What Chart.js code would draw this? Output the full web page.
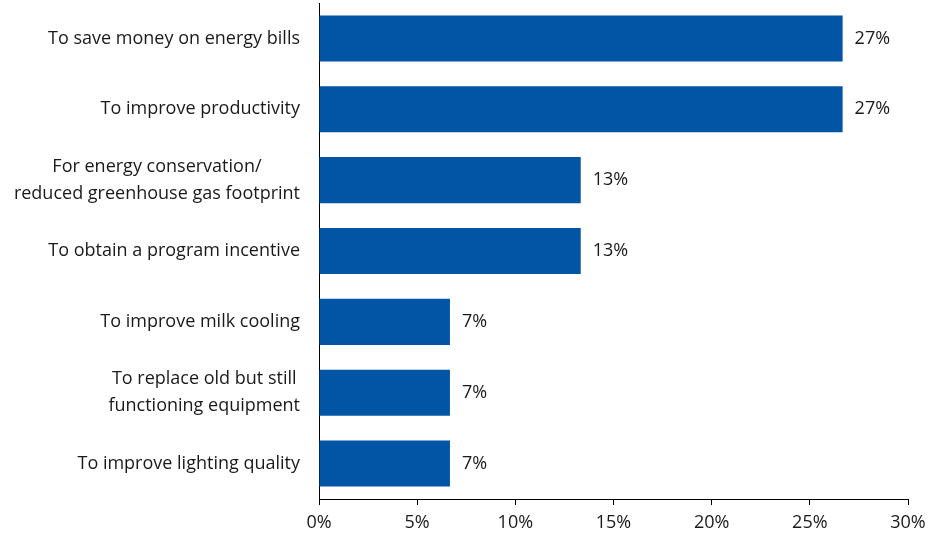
<!DOCTYPE html>
<html>
<head>
<meta charset="utf-8">
<script src="https://cdn.jsdelivr.net/npm/chart.js@4/dist/chart.umd.min.js"></script>
<style>
  html, body { margin: 0; padding: 0; background: #fff; }
  #wrap { width: 928px; height: 537px; }
</style>
</head>
<body>
<div id="wrap"><canvas id="barChart"></canvas></div>
<script>
// categories and values (percent of respondents)
const reasons = [
  ['To save money on energy bills'],
  ['To improve productivity'],
  ['For energy conservation/', 'reduced greenhouse gas footprint'],
  ['To obtain a program incentive'],
  ['To improve milk cooling'],
  ['To replace old but still', 'functioning equipment'],
  ['To improve lighting quality']
];
const shares = [26.67, 26.67, 13.33, 13.33, 6.67, 6.67, 6.67];
const shareLabels = ['27%', '27%', '13%', '13%', '7%', '7%', '7%'];
const xTicks = [0, 5, 10, 15, 20, 25, 30];

const FONT = '"Open Sans", Lato, sans-serif';
const TEXT = '#1a1a1a';

// draw the category labels (centred block, right edge near the axis)
const catLabels = {
  id: 'catLabels',
  afterDraw(chart) {
    const ctx = chart.ctx;
    const y = chart.scales.y;
    const right = y.right - 19;
    ctx.save();
    ctx.font = '18px ' + FONT;
    ctx.fillStyle = TEXT;
    ctx.textAlign = 'center';
    ctx.textBaseline = 'middle';
    reasons.forEach((lines, i) => {
      const w = Math.max(...lines.map(l => ctx.measureText(l).width));
      const cx = right - w / 2;
      const cy = y.getPixelForTick(i);
      const lh = 27;
      lines.forEach((l, j) => {
        ctx.fillText(l, cx, cy + (j - (lines.length - 1) / 2) * lh);
      });
    });
    ctx.restore();
  }
};

// value labels at the end of each bar
const valueLabels = {
  id: 'valueLabels',
  afterDatasetsDraw(chart) {
    const ctx = chart.ctx;
    const meta = chart.getDatasetMeta(0);
    ctx.save();
    ctx.font = '18px ' + FONT;
    ctx.fillStyle = TEXT;
    ctx.textAlign = 'left';
    ctx.textBaseline = 'middle';
    meta.data.forEach((bar, i) => {
      ctx.fillText(shareLabels[i], bar.x + 12, bar.y);
    });
    ctx.restore();
  }
};

const ctx = document.getElementById('barChart').getContext('2d');
new Chart(ctx, {
  type: 'bar',
  data: {
    labels: reasons,
    datasets: [{
      data: shares,
      backgroundColor: '#0255A5',
      borderWidth: 0,
      barPercentage: 0.65,
      categoryPercentage: 1
    }]
  },
  options: {
    indexAxis: 'y',
    responsive: true,
    maintainAspectRatio: false,
    animation: false,
    layout: { padding: { top: 3, right: 20, left: 0, bottom: 0 } },
    plugins: {
      legend: { display: false },
      tooltip: { enabled: false }
    },
    scales: {
      x: {
        min: 0,
        max: 30,
        afterBuildTicks(scale) { scale.ticks = xTicks.map(v => ({ value: v })); },
        afterFit(scale) {
          scale.height = 38;
          scale.paddingLeft = 0;
          scale.paddingRight = 0;
        },
        ticks: {
          font: { family: FONT, size: 18 },
          color: TEXT,
          padding: 7,
          callback: v => v + '%'
        },
        grid: {
          display: true,
          drawOnChartArea: false,
          drawTicks: true,
          tickLength: 6,
          color: '#000'
        },
        border: { display: true, color: '#000', width: 1 }
      },
      y: {
        afterFit(scale) { scale.width = 319; },
        ticks: { display: false },
        grid: { display: false },
        border: { display: true, color: '#000', width: 1 }
      }
    }
  },
  plugins: [catLabels, valueLabels]
});
</script>
</body>
</html>
